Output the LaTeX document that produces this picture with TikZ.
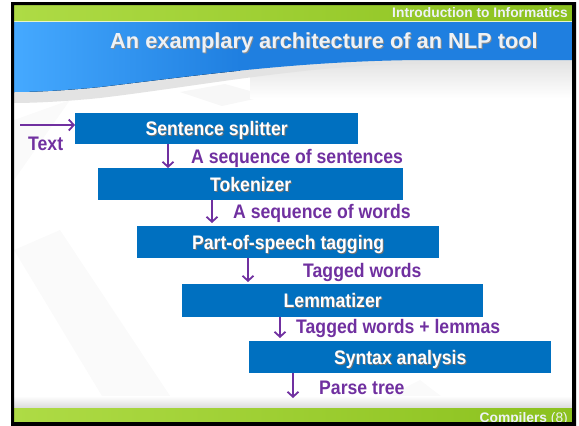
\documentclass[tikz,border=0pt]{standalone}
\usepackage{fontspec}
\setmainfont{Liberation Sans}
\newfontfamily\narrowfont[FakeStretch=0.9]{Liberation Sans}
\usetikzlibrary{arrows.meta}

\definecolor{boxblue}{HTML}{0070C0}
\definecolor{flowpurple}{HTML}{7030A0}
\definecolor{barlight}{HTML}{AEDB45}
\definecolor{bardark}{HTML}{8BC11E}
\definecolor{titlelight}{HTML}{45A9FF}
\definecolor{titledark}{HTML}{1F7FE0}
\definecolor{headtext}{HTML}{EEF2F6}

% text with a small dark drop shadow
\newcommand\shadowed[2][black!55]{\leavevmode\rlap{\kern1pt\raisebox{-1pt}{\textcolor{#1}{#2}}}#2}

\tikzset{
  stage/.style={fill=boxblue, inner sep=0pt, anchor=north west, text=white,
    font=\narrowfont\bfseries\fontsize{19.6}{22}\selectfont, text height=14pt, text depth=0pt},
  flow/.style={draw=flowpurple, line width=1.8pt,
    -{Straight Barb[length=5pt,width=11pt]}},
  flowlabel/.style={text=flowpurple, anchor=base west, inner sep=0pt,
    font=\narrowfont\bfseries\fontsize{19.6}{22}\selectfont},
  bartext/.style={text=headtext, anchor=base east, inner sep=0pt,
    font=\fontsize{13.8}{16}\selectfont},
}

\begin{document}
\begin{tikzpicture}[x=1pt, y=-1pt]
\useasboundingbox (0,0) rectangle (579,426);

% faint background texture
\fill[black!3] (180,92) -- (225,84) -- (268,96) -- (222,106) -- cycle;
\fill[black!2] (14,250) -- (60,230) -- (190,426) -- (120,426) -- cycle;
\fill[black!2] (14,120) -- (70,100) -- (14,180) -- cycle;
\fill[black!2] (330,426) -- (420,380) -- (480,426) -- cycle;

% grey shading under the title band
\fill[top color=black!12, bottom color=white] (250,58) rectangle (572,98);
\fill[black!11] (14,92) .. controls (30,92) and (60,91) .. (100,87)
  .. controls (200,75) and (300,61) .. (420,60) -- (572,60) -- (572,62)
  -- (420,63) .. controls (300,66) and (200,86) .. (100,98)
  .. controls (60,102) and (30,103) .. (14,103) -- cycle;

% title band with its wavy lower edge
\fill[titledark] (14,21) -- (572,21) -- (572,60) -- (420,60)
  .. controls (300,61) and (200,75) .. (100,87)
  .. controls (60,91) and (30,92) .. (14,92) -- cycle;
\begin{scope}
  \clip (14,21) -- (572,21) -- (572,60) -- (420,60)
    .. controls (300,61) and (200,75) .. (100,87)
    .. controls (60,91) and (30,92) .. (14,92) -- cycle;
  \fill[left color=titlelight, right color=titledark] (14,21) rectangle (240,95);
\end{scope}

% header and footer bars
\fill[left color=barlight, right color=bardark] (14,5) rectangle (572,21);
\draw[white!70!barlight, line width=0.8pt] (14,21.2) -- (572,21.2);
\fill[top color=white, bottom color=black!14] (14,396) rectangle (572,408);
\fill[left color=barlight, right color=bardark] (14,408) rectangle (572,422);

\node[bartext] (course) at (568,17) {\bfseries Introduction to Informatics};
\node[bartext] (footer) at (568,422.5) {\textbf{Compilers} (8)};

\node[anchor=base west, inner sep=0pt, text=headtext,
  font=\bfseries\fontsize{21.8}{24}\selectfont] (title) at (110,48.5)
  {\shadowed[black!45]{An examplary architecture of an NLP tool}};

% processing stages
\node[stage, minimum width=283pt, minimum height=31pt] (s1) at (75,113) {\shadowed{Sentence splitter}};
\node[stage, minimum width=305pt, minimum height=32pt] (s2) at (98,168) {\shadowed{Tokenizer}};
\node[stage, minimum width=302pt, minimum height=32pt] (s3) at (137,226) {\shadowed{Part-of-speech tagging}};
\node[stage, minimum width=301pt, minimum height=33pt] (s4) at (182,284) {\shadowed{Lemmatizer}};
\node[stage, minimum width=302pt, minimum height=32pt] (s5) at (249,341) {\shadowed{Syntax analysis}};

% data flowing between the stages
\coordinate (in) at (20,125);
\coordinate (out) at (293,398);
\draw[flow] (in) -- (in -| s1.west);
\draw[flow] ([xshift=93pt]s1.south west) -- ([xshift=70pt]s2.north west);
\draw[flow] ([xshift=114pt]s2.south west) -- ([xshift=75pt,yshift=3pt]s3.north west);
\draw[flow] ([xshift=111pt]s3.south west) -- ([xshift=66pt,yshift=2pt]s4.north west);
\draw[flow] ([xshift=98pt]s4.south west) -- ([xshift=31pt,yshift=3pt]s5.north west);
\draw[flow] (s5.south -| out) -- (out);

\node[flowlabel] (l0) at (28,150) {Text};
\node[flowlabel] (l1) at (191,163) {A sequence of sentences};
\node[flowlabel] (l2) at (233,218) {A sequence of words};
\node[flowlabel] (l3) at (303,277) {Tagged words};
\node[flowlabel] (l4) at (296,333) {Tagged words + lemmas};
\node[flowlabel] (l5) at (319,394) {Parse tree};

% slide frame
\fill[black, even odd rule] (11,2) rectangle (576,426) (14,5) rectangle (572,422);
\end{tikzpicture}
\end{document}
